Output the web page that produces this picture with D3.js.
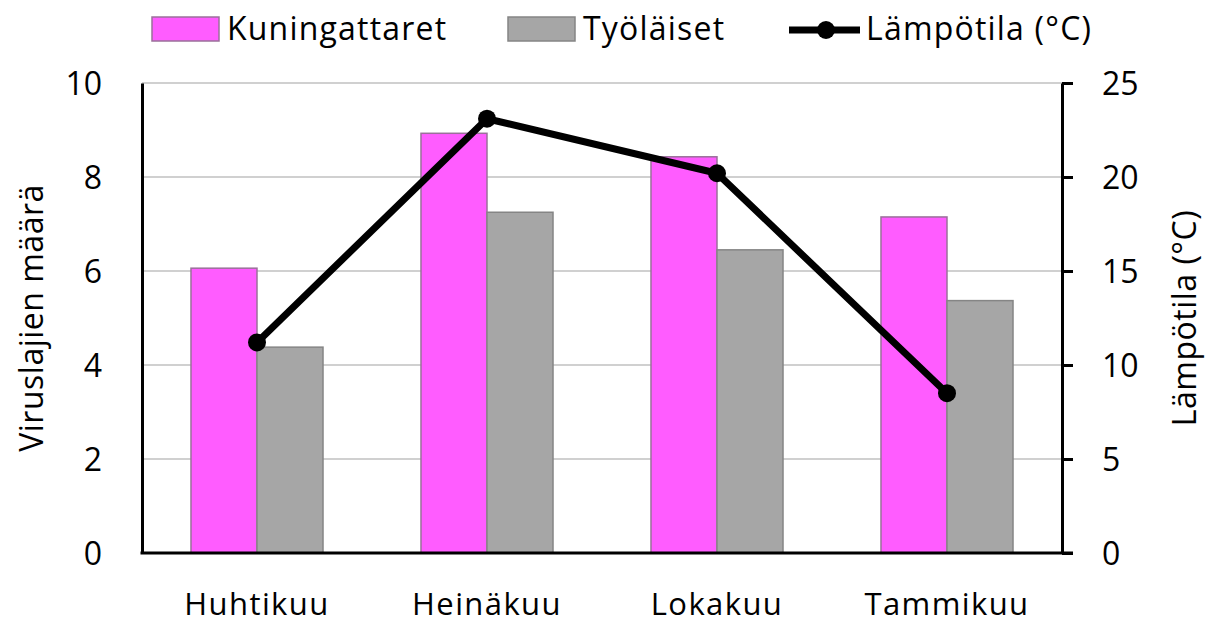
<!DOCTYPE html>
<html>
<head>
<meta charset="utf-8">
<script src="https://cdn.jsdelivr.net/npm/d3@7"></script>
<style>
  body { margin: 0; background: #fff; }
  text { font-family: "Open Sans", "Noto Sans", sans-serif; fill: #000; }
</style>
</head>
<body>
<script>
'use strict';

// chart data
const months = ["Huhtikuu", "Heinäkuu", "Lokakuu", "Tammikuu"];
const queens = [6.06, 8.93, 8.43, 7.15];
const workers = [4.38, 7.25, 6.45, 5.37];
const temperature = [11.2, 23.1, 20.2, 8.5];
const leftTicks = [0, 2, 4, 6, 8, 10];
const rightTicks = [0, 5, 10, 15, 20, 25];
const seriesNames = ["Kuningattaret", "Työläiset"];
const lineName = "Lämpötila (°C)";

(function () {
  const width = 1209, height = 624;
  const left = 142, right = 1062, top = 83, bottom = 553;

  const svg = d3.select('body').append('svg')
    .attr('width', width)
    .attr('height', height);

  let x0 = d3.scaleBand()
    .domain(months)
    .range([left, right])
    .paddingInner(0.426)
    .paddingOuter(0.213);

  let x1 = d3.scaleBand()
    .domain(seriesNames)
    .range([0, x0.bandwidth()]);

  let yLeft = d3.scaleLinear().domain([0, 10]).range([bottom, top]);
  let yRight = d3.scaleLinear().domain([0, 25]).range([bottom, top]);

  const colors = { "Kuningattaret": "#ff5cff", "Työläiset": "#a6a6a6" };

  // gridlines
  svg.append('g')
    .selectAll('line')
    .data(leftTicks.filter(d => d > 0))
    .enter()
    .append('line')
    .attr('x1', left)
    .attr('x2', right)
    .attr('y1', d => yLeft(d))
    .attr('y2', d => yLeft(d))
    .attr('stroke', '#d0d0d0')
    .attr('stroke-width', 2);

  // bars
  let rows = months.map((m, i) => ({ month: m, values: [
    { name: seriesNames[0], v: queens[i] },
    { name: seriesNames[1], v: workers[i] }
  ]}));

  svg.append('g')
    .selectAll('g')
    .data(rows)
    .enter()
    .append('g')
    .attr('transform', d => 'translate(' + x0(d.month) + ',0)')
    .selectAll('rect')
    .data(d => d.values)
    .enter()
    .append('rect')
    .attr('x', d => x1(d.name))
    .attr('y', d => yLeft(d.v))
    .attr('width', x1.bandwidth())
    .attr('height', d => bottom - yLeft(d.v))
    .attr('fill', d => colors[d.name])
    .attr('stroke', d => d.name === seriesNames[0] ? '#9a709a' : '#858585')
    .attr('stroke-width', 1.5);

  // left axis
  let yAxisLeft = d3.axisLeft(yLeft).tickValues(leftTicks).tickSize(0).tickPadding(40);
  let gl = svg.append('g')
    .attr('transform', 'translate(' + left + ',0)')
    .call(yAxisLeft);
  gl.select('.domain').attr('stroke', '#000').attr('stroke-width', 3);
  gl.selectAll('text').style('font-size', '32px').attr('dy', '0.36em');

  // right axis
  let yAxisRight = d3.axisRight(yRight).tickValues(rightTicks).tickSize(11).tickSizeOuter(0).tickPadding(29);
  let gr = svg.append('g')
    .attr('transform', 'translate(' + right + ',0)')
    .call(yAxisRight);
  gr.select('.domain').attr('stroke', '#000').attr('stroke-width', 3);
  gr.selectAll('.tick line').attr('stroke', '#000').attr('stroke-width', 3);
  gr.selectAll('text').style('font-size', '32px').attr('dy', '0.36em');

  // bottom axis
  let xAxis = d3.axisBottom(x0).tickSize(0).tickPadding(40);
  let gb = svg.append('g')
    .attr('transform', 'translate(0,' + bottom + ')')
    .call(xAxis);
  gb.select('.domain').attr('stroke', '#000').attr('stroke-width', 3)
    .attr('d', 'M' + (left - 1.5) + ',0H' + (right + 11));
  gb.selectAll('text').style('font-size', '31px').style('letter-spacing', '1.4px');

  // temperature line
  let cx = d => x0(d) + x0.bandwidth() / 2;
  let valueLine = d3.line()
    .x((d, i) => cx(months[i]))
    .y(d => yRight(d));

  svg.append('path')
    .datum(temperature)
    .attr('d', valueLine)
    .attr('fill', 'none')
    .attr('stroke', '#000')
    .attr('stroke-width', 7)
    .attr('stroke-linejoin', 'round');

  svg.append('g')
    .selectAll('circle')
    .data(temperature)
    .enter()
    .append('circle')
    .attr('cx', (d, i) => cx(months[i]))
    .attr('cy', d => yRight(d))
    .attr('r', 9)
    .attr('fill', '#000');

  // axis titles
  svg.append('text')
    .attr('transform', 'translate(43,' + (top + bottom) / 2 + ')rotate(-90)')
    .attr('text-anchor', 'middle')
    .style('font-size', '32px')
    .style('letter-spacing', '0.5px')
    .text('Viruslajien määrä');

  svg.append('text')
    .attr('transform', 'translate(1196,' + (top + bottom) / 2 + ')rotate(-90)')
    .attr('text-anchor', 'middle')
    .style('font-size', '32px')
    .style('letter-spacing', '0.5px')
    .text(lineName);

  // legend
  let legend = svg.append('g');
  let swatchX = [152, 508];
  seriesNames.forEach((name, i) => {
    legend.append('rect')
      .attr('x', swatchX[i])
      .attr('y', 17)
      .attr('width', 67)
      .attr('height', 24)
      .attr('fill', colors[name])
      .attr('stroke', i === 0 ? '#9a709a' : '#858585')
      .attr('stroke-width', 1.5);
    legend.append('text')
      .attr('x', swatchX[i] + 75)
      .attr('y', 40)
      .style('font-size', '32px')
      .style('letter-spacing', '1.2px')
      .text(name);
  });
  legend.append('line')
    .attr('x1', 789).attr('x2', 860)
    .attr('y1', 30).attr('y2', 30)
    .attr('stroke', '#000')
    .attr('stroke-width', 7);
  legend.append('circle')
    .attr('cx', 826).attr('cy', 30).attr('r', 9)
    .attr('fill', '#000');
  legend.append('text')
    .attr('x', 866)
    .attr('y', 40)
    .style('font-size', '32px')
    .style('letter-spacing', '1.2px')
    .text(lineName);
})();
</script>
</body>
</html>
